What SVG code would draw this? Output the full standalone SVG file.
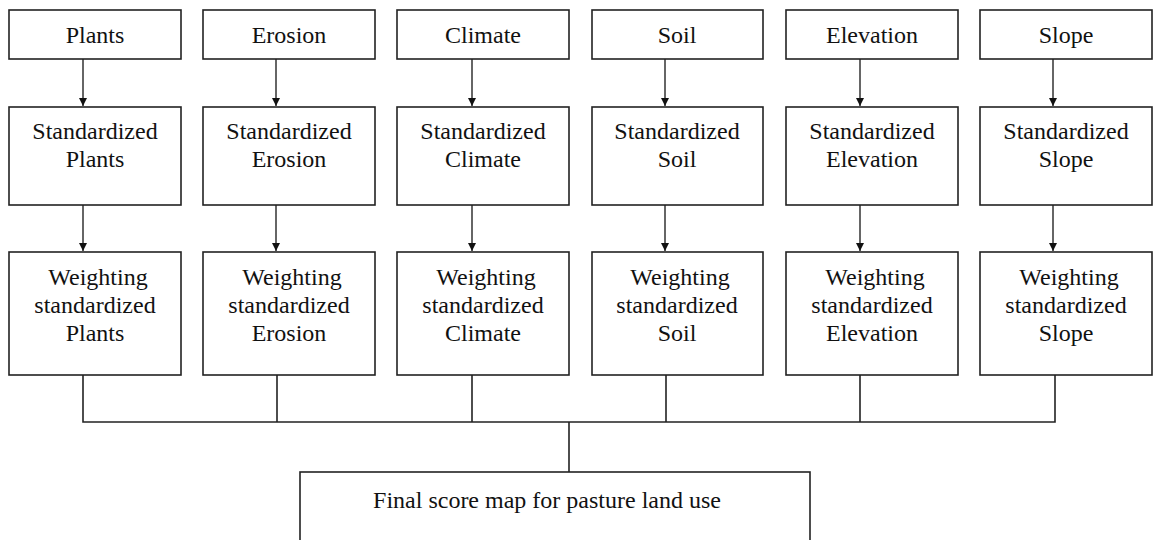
<svg xmlns="http://www.w3.org/2000/svg" width="1153" height="540" viewBox="0 0 1153 540">
<style>
.box{fill:#fff;stroke:#222;stroke-width:1.6}
.t{font-family:"Liberation Serif","Times New Roman",serif;font-size:24px;fill:#111;text-anchor:middle}
.arr{stroke:#666;stroke-width:2;fill:none}
.ln{stroke:#222;stroke-width:1.6;fill:none}
</style>
<defs>
<marker id="ah" markerWidth="8" markerHeight="8" refX="8" refY="4" orient="auto" markerUnits="userSpaceOnUse" viewBox="0 0 8 8">
<path d="M0,0 L8,4 L0,8 Z" fill="#111"/>
</marker>
</defs>
<rect width="1153" height="540" fill="#fff"/>
<g id="connectors">
<line class="arr" x1="83" y1="59" x2="83" y2="106" marker-end="url(#ah)"/>
<line class="arr" x1="276" y1="59" x2="276" y2="106" marker-end="url(#ah)"/>
<line class="arr" x1="472" y1="59" x2="472" y2="106" marker-end="url(#ah)"/>
<line class="arr" x1="665" y1="59" x2="665" y2="106" marker-end="url(#ah)"/>
<line class="arr" x1="860" y1="59" x2="860" y2="106" marker-end="url(#ah)"/>
<line class="arr" x1="1053" y1="59" x2="1053" y2="106" marker-end="url(#ah)"/>
<line class="arr" x1="83" y1="205" x2="83" y2="251" marker-end="url(#ah)"/>
<line class="arr" x1="276" y1="205" x2="276" y2="251" marker-end="url(#ah)"/>
<line class="arr" x1="472" y1="205" x2="472" y2="251" marker-end="url(#ah)"/>
<line class="arr" x1="665" y1="205" x2="665" y2="251" marker-end="url(#ah)"/>
<line class="arr" x1="860" y1="205" x2="860" y2="251" marker-end="url(#ah)"/>
<line class="arr" x1="1053" y1="205" x2="1053" y2="251" marker-end="url(#ah)"/>
<path class="ln" d="M83,375 V422 H1055 V375 M277,375 V422 M472,375 V422 M666,375 V422 M860,375 V422 M569,422 V472"/>
</g>
<g id="plants"><rect class="box" x="9" y="10" width="172" height="49"/><text class="t" x="95" y="43">Plants</text></g>
<g id="erosion"><rect class="box" x="203" y="10" width="172" height="49"/><text class="t" x="289" y="43">Erosion</text></g>
<g id="climate"><rect class="box" x="397" y="10" width="172" height="49"/><text class="t" x="483" y="43">Climate</text></g>
<g id="soil"><rect class="box" x="592" y="10" width="171" height="49"/><text class="t" x="677" y="43">Soil</text></g>
<g id="elevation"><rect class="box" x="786" y="10" width="172" height="49"/><text class="t" x="872" y="43">Elevation</text></g>
<g id="slope"><rect class="box" x="980" y="10" width="172" height="49"/><text class="t" x="1066" y="43">Slope</text></g>

<g id="std-plants"><rect class="box" x="9" y="107" width="172" height="98"/><text class="t" x="95" y="139">Standardized</text><text class="t" x="95" y="167">Plants</text></g>
<g id="std-erosion"><rect class="box" x="203" y="107" width="172" height="98"/><text class="t" x="289" y="139">Standardized</text><text class="t" x="289" y="167">Erosion</text></g>
<g id="std-climate"><rect class="box" x="397" y="107" width="172" height="98"/><text class="t" x="483" y="139">Standardized</text><text class="t" x="483" y="167">Climate</text></g>
<g id="std-soil"><rect class="box" x="592" y="107" width="171" height="98"/><text class="t" x="677" y="139">Standardized</text><text class="t" x="677" y="167">Soil</text></g>
<g id="std-elevation"><rect class="box" x="786" y="107" width="172" height="98"/><text class="t" x="872" y="139">Standardized</text><text class="t" x="872" y="167">Elevation</text></g>
<g id="std-slope"><rect class="box" x="980" y="107" width="172" height="98"/><text class="t" x="1066" y="139">Standardized</text><text class="t" x="1066" y="167">Slope</text></g>

<g id="w-plants"><rect class="box" x="9" y="252" width="172" height="123"/><text class="t" x="98" y="285">Weighting</text><text class="t" x="95" y="313">standardized</text><text class="t" x="95" y="341">Plants</text></g>
<g id="w-erosion"><rect class="box" x="203" y="252" width="172" height="123"/><text class="t" x="292" y="285">Weighting</text><text class="t" x="289" y="313">standardized</text><text class="t" x="289" y="341">Erosion</text></g>
<g id="w-climate"><rect class="box" x="397" y="252" width="172" height="123"/><text class="t" x="486" y="285">Weighting</text><text class="t" x="483" y="313">standardized</text><text class="t" x="483" y="341">Climate</text></g>
<g id="w-soil"><rect class="box" x="592" y="252" width="171" height="123"/><text class="t" x="680" y="285">Weighting</text><text class="t" x="677" y="313">standardized</text><text class="t" x="677" y="341">Soil</text></g>
<g id="w-elevation"><rect class="box" x="786" y="252" width="172" height="123"/><text class="t" x="875" y="285">Weighting</text><text class="t" x="872" y="313">standardized</text><text class="t" x="872" y="341">Elevation</text></g>
<g id="w-slope"><rect class="box" x="980" y="252" width="172" height="123"/><text class="t" x="1069" y="285">Weighting</text><text class="t" x="1066" y="313">standardized</text><text class="t" x="1066" y="341">Slope</text></g>

<g id="final"><rect class="box" x="300" y="472" width="510" height="80"/><text class="t" x="547" y="508">Final score map for pasture land use</text></g>
</svg>
